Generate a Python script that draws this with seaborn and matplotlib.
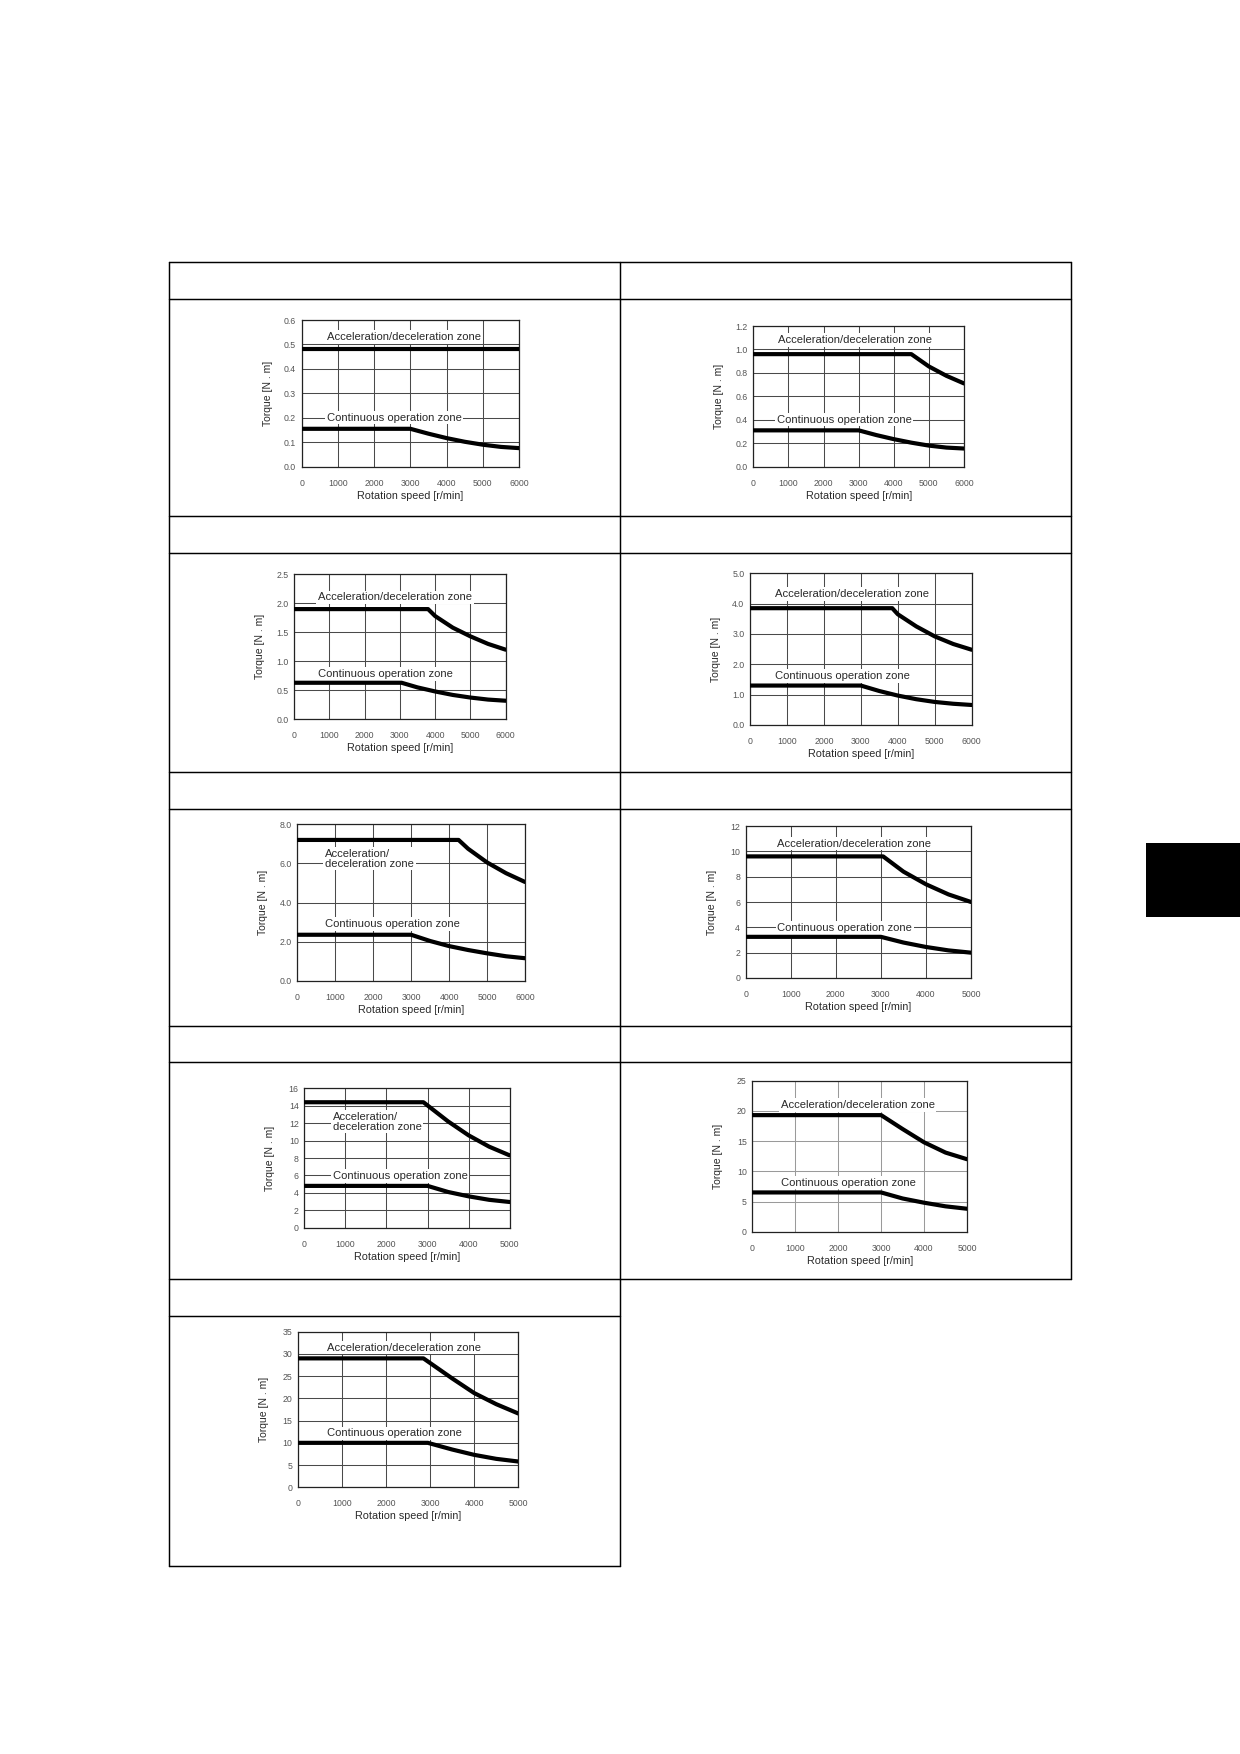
import matplotlib
matplotlib.use("Agg")
import matplotlib.pyplot as plt
from matplotlib.lines import Line2D
from matplotlib.patches import Rectangle
import pandas as pd
import seaborn as sns

sns.set_theme(style="white")
plt.rcParams["font.family"] = ["Liberation Sans", "DejaVu Sans"]

# ---------------------------------------------------------------------------
# Torque / speed characteristics, one block per motor
# ---------------------------------------------------------------------------
P1_ACC_RPM = [0, 6000]
P1_ACC_TQ = [0.48, 0.48]
P1_CONT_RPM = [0, 3000, 3500, 4000, 4500, 5000, 5500, 6000]
P1_CONT_TQ = [0.155, 0.155, 0.135, 0.117, 0.102, 0.090, 0.081, 0.076]
P1_YTICKS = ["0.0", "0.1", "0.2", "0.3", "0.4", "0.5", "0.6"]

P2_ACC_RPM = [0, 4500, 5000, 5500, 6000]
P2_ACC_TQ = [0.96, 0.96, 0.855, 0.775, 0.71]
P2_CONT_RPM = [0, 3000, 3500, 4000, 4500, 5000, 5500, 6000]
P2_CONT_TQ = [0.31, 0.31, 0.27, 0.235, 0.205, 0.18, 0.163, 0.155]
P2_YTICKS = ["0.0", "0.2", "0.4", "0.6", "0.8", "1.0", "1.2"]

P3_ACC_RPM = [0, 3800, 4000, 4500, 5000, 5500, 6000]
P3_ACC_TQ = [1.9, 1.9, 1.78, 1.58, 1.43, 1.30, 1.20]
P3_CONT_RPM = [0, 3050, 3500, 4000, 4500, 5000, 5500, 6000]
P3_CONT_TQ = [0.63, 0.63, 0.55, 0.48, 0.42, 0.375, 0.34, 0.32]
P3_YTICKS = ["0.0", "0.5", "1.0", "1.5", "2.0", "2.5"]

P4_ACC_RPM = [0, 3850, 4000, 4500, 5000, 5500, 6000]
P4_ACC_TQ = [3.85, 3.85, 3.65, 3.25, 2.92, 2.67, 2.48]
P4_CONT_RPM = [0, 3000, 3500, 4000, 4500, 5000, 5500, 6000]
P4_CONT_TQ = [1.3, 1.3, 1.12, 0.97, 0.85, 0.76, 0.70, 0.66]
P4_YTICKS = ["0.0", "1.0", "2.0", "3.0", "4.0", "5.0"]

P5_ACC_RPM = [0, 4250, 4500, 5000, 5500, 6000]
P5_ACC_TQ = [7.2, 7.2, 6.75, 6.05, 5.5, 5.05]
P5_CONT_RPM = [0, 3000, 3500, 4000, 4500, 5000, 5500, 6000]
P5_CONT_TQ = [2.35, 2.35, 2.03, 1.77, 1.57, 1.40, 1.25, 1.15]
P5_YTICKS = ["0.0", "2.0", "4.0", "6.0", "8.0"]

P6_ACC_RPM = [0, 3050, 3500, 4000, 4500, 5000]
P6_ACC_TQ = [9.6, 9.6, 8.4, 7.4, 6.6, 6.0]
P6_CONT_RPM = [0, 3000, 3500, 4000, 4500, 5000]
P6_CONT_TQ = [3.25, 3.25, 2.8, 2.45, 2.18, 2.0]
P6_YTICKS = ["0", "2", "4", "6", "8", "10", "12"]

P7_ACC_RPM = [0, 2900, 3500, 4000, 4500, 5000]
P7_ACC_TQ = [14.4, 14.4, 12.2, 10.6, 9.3, 8.3]
P7_CONT_RPM = [0, 3000, 3500, 4000, 4500, 5000]
P7_CONT_TQ = [4.8, 4.8, 4.1, 3.6, 3.2, 2.95]
P7_YTICKS = ["0", "2", "4", "6", "8", "10", "12", "14", "16"]

P8_ACC_RPM = [0, 3000, 3500, 4000, 4500, 5000]
P8_ACC_TQ = [19.3, 19.3, 17.0, 14.8, 13.1, 12.0]
P8_CONT_RPM = [0, 3000, 3500, 4000, 4500, 5000]
P8_CONT_TQ = [6.5, 6.5, 5.5, 4.8, 4.2, 3.8]
P8_YTICKS = ["0", "5", "10", "15", "20", "25"]

P9_ACC_RPM = [0, 2850, 3500, 4000, 4500, 5000]
P9_ACC_TQ = [29.0, 29.0, 24.5, 21.2, 18.7, 16.6]
P9_CONT_RPM = [0, 2950, 3500, 4000, 4500, 5000]
P9_CONT_TQ = [10.0, 10.0, 8.5, 7.3, 6.4, 5.8]
P9_YTICKS = ["0", "5", "10", "15", "20", "25", "30", "35"]

X_TICKS_6000 = ["0", "1000", "2000", "3000", "4000", "5000", "6000"]
X_TICKS_5000 = ["0", "1000", "2000", "3000", "4000", "5000"]

ACC_LABEL = "Acceleration/deceleration zone"
ACC_LABEL_2L = "Acceleration/\ndeceleration zone"
CONT_LABEL = "Continuous operation zone"
X_LABEL = "Rotation speed [r/min]"
Y_LABEL = "Torque [N . m]"

# ---------------------------------------------------------------------------
# Page layout (pixel coordinates on a 1240 x 1754 page)
# ---------------------------------------------------------------------------
W, H = 1240, 1754
DPI = 150

panels = [
    # data, y tick labels, x tick labels, axes box (l, t, r, b), label spots
    dict(acc=(P1_ACC_RPM, P1_ACC_TQ), cont=(P1_CONT_RPM, P1_CONT_TQ),
         yt=P1_YTICKS, xt=X_TICKS_6000, box=(301.7, 320, 519, 466.7),
         acc_lbl=(690, 0.53, ACC_LABEL), cont_lbl=(690, 0.20, CONT_LABEL)),
    dict(acc=(P2_ACC_RPM, P2_ACC_TQ), cont=(P2_CONT_RPM, P2_CONT_TQ),
         yt=P2_YTICKS, xt=X_TICKS_6000, box=(753.3, 326, 964, 466.7),
         acc_lbl=(700, 1.08, ACC_LABEL), cont_lbl=(670, 0.40, CONT_LABEL)),
    dict(acc=(P3_ACC_RPM, P3_ACC_TQ), cont=(P3_CONT_RPM, P3_CONT_TQ),
         yt=P3_YTICKS, xt=X_TICKS_6000, box=(294, 574.3, 505.7, 719.3),
         acc_lbl=(680, 2.10, ACC_LABEL), cont_lbl=(680, 0.78, CONT_LABEL)),
    dict(acc=(P4_ACC_RPM, P4_ACC_TQ), cont=(P4_CONT_RPM, P4_CONT_TQ),
         yt=P4_YTICKS, xt=X_TICKS_6000, box=(750, 573.3, 971.7, 725),
         acc_lbl=(677, 4.32, ACC_LABEL), cont_lbl=(677, 1.61, CONT_LABEL)),
    dict(acc=(P5_ACC_RPM, P5_ACC_TQ), cont=(P5_CONT_RPM, P5_CONT_TQ),
         yt=P5_YTICKS, xt=X_TICKS_6000, box=(297.3, 824.3, 525, 980.7),
         acc_lbl=(730, 6.25, ACC_LABEL_2L), cont_lbl=(730, 2.90, CONT_LABEL)),
    dict(acc=(P6_ACC_RPM, P6_ACC_TQ), cont=(P6_CONT_RPM, P6_CONT_TQ),
         yt=P6_YTICKS, xt=X_TICKS_5000, box=(745.7, 826, 971, 978),
         acc_lbl=(701, 10.6, ACC_LABEL), cont_lbl=(701, 3.95, CONT_LABEL)),
    dict(acc=(P7_ACC_RPM, P7_ACC_TQ), cont=(P7_CONT_RPM, P7_CONT_TQ),
         yt=P7_YTICKS, xt=X_TICKS_5000, box=(304.3, 1088.3, 509.7, 1227.7),
         acc_lbl=(691, 12.17, ACC_LABEL_2L), cont_lbl=(691, 5.93, CONT_LABEL)),
    dict(acc=(P8_ACC_RPM, P8_ACC_TQ), cont=(P8_CONT_RPM, P8_CONT_TQ),
         yt=P8_YTICKS, xt=X_TICKS_5000, box=(752.3, 1080.7, 967, 1231.7),
         acc_lbl=(661, 20.97, ACC_LABEL), cont_lbl=(661, 8.1, CONT_LABEL),
         grid="#9a9a9a"),
    dict(acc=(P9_ACC_RPM, P9_ACC_TQ), cont=(P9_CONT_RPM, P9_CONT_TQ),
         yt=P9_YTICKS, xt=X_TICKS_5000, box=(297.7, 1331.7, 518.3, 1487.3),
         acc_lbl=(671, 31.4, ACC_LABEL), cont_lbl=(671, 12.15, CONT_LABEL)),
]

fig = plt.figure(figsize=(W / DPI, H / DPI), dpi=DPI)
fig.patch.set_facecolor("white")


def fx(x):
    return x / W


def fy(y):
    return 1 - y / H


# table frame
def hline(y, x0, x1):
    fig.add_artist(Line2D([fx(x0), fx(x1)], [fy(y), fy(y)], color="black",
                          lw=0.7, transform=fig.transFigure))


def vline(x, y0, y1):
    fig.add_artist(Line2D([fx(x), fx(x)], [fy(y0), fy(y1)], color="black",
                          lw=0.7, transform=fig.transFigure))


for y in (262, 299, 516, 553, 772, 809, 1026, 1062, 1279):
    hline(y, 169, 1071)
for y in (1316, 1566):
    hline(y, 169, 620)
vline(169, 262, 1566)
vline(620, 262, 1566)
vline(1071, 262, 1279)

# black index tab on the page edge
fig.add_artist(Rectangle((fx(1146), fy(917)), fx(1240) - fx(1146),
                         fy(843) - fy(917), facecolor="black",
                         edgecolor="none", transform=fig.transFigure))

TICK_COLOR = "#555555"
TEXT_COLOR = "#2a2a2a"

for p in panels:
    l, t, r, b = p["box"]
    ax = fig.add_axes([fx(l), fy(b), fx(r) - fx(l), fy(t) - fy(b)])
    wpx, hpx = r - l, b - t

    y_vals = [float(s) for s in p["yt"]]
    x_vals = [float(s) for s in p["xt"]]
    ax.set_xlim(x_vals[0], x_vals[-1])
    ax.set_ylim(y_vals[0], y_vals[-1])
    ax.set_xticks(x_vals)
    ax.set_yticks(y_vals)
    ax.set_xticklabels(p["xt"])
    ax.set_yticklabels(p["yt"])
    ax.tick_params(axis="both", length=0, labelsize=4.2, colors=TICK_COLOR)
    ax.tick_params(axis="x", pad=5.8)
    ax.tick_params(axis="y", pad=2.7)

    gcol = p.get("grid", "#4a4a4a")
    ax.grid(True, color=gcol, lw=0.5, zorder=1)
    ax.set_axisbelow(True)
    for s in ax.spines.values():
        s.set_color("#222222")
        s.set_linewidth(0.6)

    for key in ("acc", "cont"):
        rpm, tq = p[key]
        df = pd.DataFrame({"rpm": rpm, "torque": tq})
        sns.lineplot(data=df, x="rpm", y="torque", ax=ax, color="black",
                     lw=2.0, estimator=None, sort=False, zorder=3)

    # zone captions sit on a white patch over the grid, beneath the curves
    for key in ("acc_lbl", "cont_lbl"):
        x, y, s = p[key]
        ax.text(x, y, s, ha="left", va="center", fontsize=5.4,
                color=TEXT_COLOR, linespacing=1.0, zorder=2.5,
                bbox=dict(facecolor="white", edgecolor="none", pad=0.8))

    ax.set_xlabel(X_LABEL, fontsize=5.2, color=TEXT_COLOR)
    ax.set_ylabel(Y_LABEL, fontsize=5.0, color=TEXT_COLOR)
    ax.xaxis.set_label_coords(0.5, -24 / hpx)
    ax.yaxis.set_label_coords(-29 / wpx, 0.5)

fig.savefig("out.png", dpi=DPI, facecolor="white")
